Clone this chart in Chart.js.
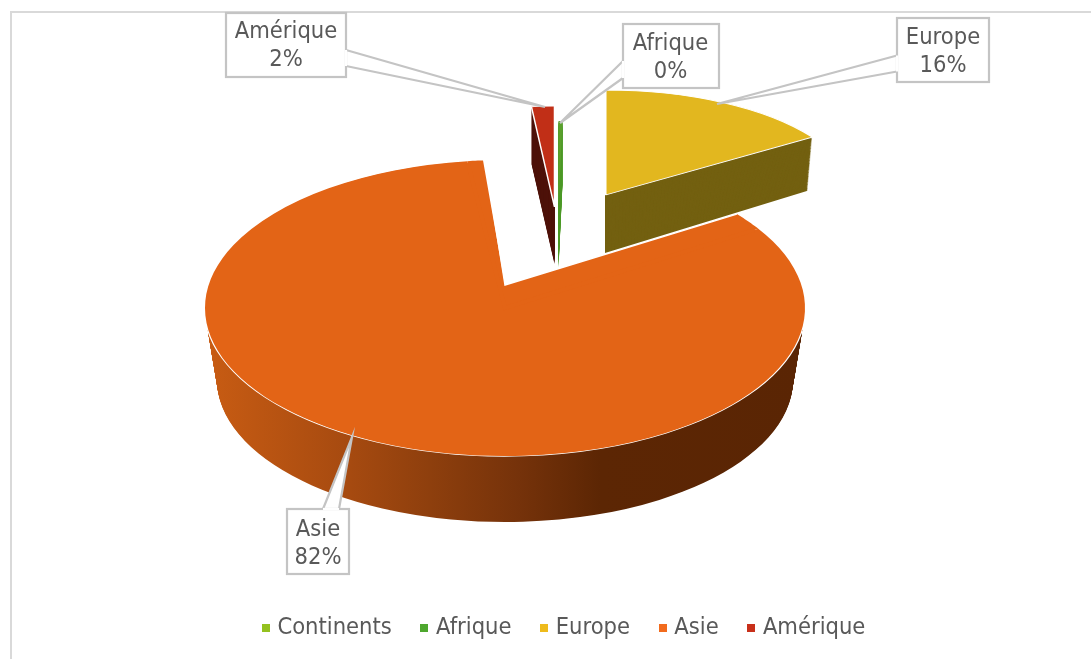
<!DOCTYPE html>
<html><head><meta charset="utf-8">
<style>html,body{margin:0;padding:0;background:#fff}canvas{display:block}</style>
<script src="https://cdn.jsdelivr.net/npm/chart.js@4"></script></head>
<body><canvas id="c" width="1091" height="659"></canvas>
<script>
const categories = ['Continents','Afrique','Europe','Asie','Amérique'];
const shares = [0, 0.3, 15.7, 82, 2];
const faceColors = ['#94c11f','#5aa02c','#e2b71f','#e36416','#c12f17'];
const legendColors = ['#94c11f','#4ea72e','#eebb1c','#f26b1d','#c8301a'];
const sideColors = ['#94c11f','#4f9a2a','#736010','#5c2604','#4e120a'];

const FONT = '"DejaVu Sans Condensed","DejaVu Sans",sans-serif';
const FONT_SIZE = 23.5;
const TEXT = '#595959', LINE = '#c4c4c4';

// how each exploded slice is seen in perspective: top ellipse and bottom ellipse
const views = [
  null,
  {x:558.5,y:205,rx:212,ry:84, bx:558.5,by:268,brx:212,bry:84, spin:0, bare:true},
  {x:605.5,y:195,rx:248,ry:105,bx:605,by:253,brx:243,bry:113, spin:-1.08},
  {x:505,y:308,rx:300,ry:148,bx:505,by:380,brx:288,bry:142, spin:0,
   apex:{x:505,y:285}, growStart:7, growEnd:3.4},
  {x:554.5,y:207,rx:184,ry:101,bx:554.5,by:264,brx:184,bry:101, spin:0}
];
const drawOrder = [1,2,4,3];
const asieSide = [[207,'#c85c13'],[350,'#a64a10'],[430,'#8e3f0d'],[520,'#75320a'],[600,'#5c2604'],[805,'#5a2504']];

// callouts: box, pointer base and tip
const callouts = [
  null,
  {box:[623,24,96,64], base:[[623,61],[623,78]], tip:[560,123], cx:670.5, ly:[44,72]},
  {box:[897,18,92,64], base:[[897,55.5],[897,71.5]], tip:[717,104], cx:943, ly:[38,66]},
  {box:[287,509,62,65], base:[[323,509],[339,509]], tip:[352,437], cx:318, ly:[530,558]},
  {box:[226,13,120,64], base:[[346,50],[346,66]], tip:[545,107], cx:286, ly:[32,60]}
];

function lerp(a,b,t){return a+(b-a)*t;}

const pie3d = {
  id:'pie3d',
  beforeDraw(chart){
    const c = chart.ctx; c.save();
    c.fillStyle='#fff'; c.fillRect(0,0,chart.width,chart.height);
    c.strokeStyle='#d9d9d9'; c.lineWidth=2;
    c.beginPath(); c.moveTo(11,659); c.lineTo(11,12); c.lineTo(1091,12); c.stroke();
    c.restore();
  },
  beforeDatasetsDraw(chart){
    const c = chart.ctx, arcs = chart.getDatasetMeta(0).data;
    const place = (arc,v,t)=>{
      const X=lerp(v.x,v.bx,t),Y=lerp(v.y,v.by,t),rx=lerp(v.rx,v.brx,t),ry=lerp(v.ry,v.bry,t);
      const R=arc.outerRadius;
      c.translate(X,Y); c.scale(rx/R,ry/R); c.rotate(v.spin*Math.PI/180); c.translate(-arc.x,-arc.y);
      return {X,Y,rx,ry,R};
    };
    const drawWith=(arc,over)=>{
      const base=arc.options, o=Object.create(base);
      Object.assign(o,over);
      arc.options=o; arc.draw(c); arc.options=base;
    };
    drawOrder.forEach(i=>{
      const arc=arcs[i], v=views[i], base=arc.options;
      const depth=Math.max(v.by-v.y,1);
      for(let s=Math.ceil(depth);s>=1;s--){
        const t=s/depth;
        c.save();
        const p=place(arc,v,t);
        let fill=sideColors[i];
        if(i===3){
          const toLocal=X=>arc.x+(X-p.X)*p.R/p.rx;
          const g=c.createLinearGradient(toLocal(asieSide[0][0]),0,toLocal(asieSide[asieSide.length-1][0]),0);
          const span=asieSide[asieSide.length-1][0]-asieSide[0][0];
          asieSide.forEach(q=>g.addColorStop((q[0]-asieSide[0][0])/span,q[1]));
          fill=g;
        }
        drawWith(arc,{backgroundColor:fill,borderWidth:0});
        c.restore();
      }
      c.save();
      place(arc,v,0);
      if(v.bare) drawWith(arc,{borderWidth:0}); else arc.draw(c);
      c.restore();
      if(v.apex){
        const pt=(a,k=1)=>[v.x+k*v.rx*Math.cos(a),v.y+k*v.ry*Math.sin(a)];
        const D=Math.PI/180, a0=arc.startAngle, a1=arc.endAngle;
        c.save();
        c.fillStyle=base.backgroundColor;
        c.beginPath();
        c.moveTo(v.apex.x,v.apex.y);
        for(let d=v.growStart;d>=-0.01;d-=0.5){const q=pt(a0-d*D);c.lineTo(q[0],q[1]);}
        c.lineTo(v.x,v.y);
        for(let d=0;d<=v.growEnd+0.01;d+=0.5){const q=pt(a1+d*D);c.lineTo(q[0],q[1]);}
        c.closePath(); c.fill();
        c.restore();
        c.save();
        place(arc,v,0);
        drawWith(arc,{borderWidth:0});
        c.restore();
        // hide the seams between the slice and its perspective correction
        c.save();
        c.strokeStyle=base.backgroundColor; c.lineWidth=4;
        c.beginPath();
        let s=pt(a0,0.985); c.moveTo(s[0],s[1]);
        c.lineTo(v.x,v.y);
        s=pt(a1,0.985); c.lineTo(s[0],s[1]);
        c.stroke();
        c.strokeStyle='#fff'; c.lineWidth=1.4;
        c.beginPath();
        let q=pt(a1+v.growEnd*D); c.moveTo(q[0],q[1]);
        c.lineTo(v.apex.x,v.apex.y);
        q=pt(a0-v.growStart*D); c.lineTo(q[0],q[1]);
        c.stroke();
        c.restore();
      }
    });
    return false;
  },
  afterDraw(chart){
    const c=chart.ctx, total=shares.reduce((a,b)=>a+b,0);
    c.save();
    callouts.forEach((k,i)=>{
      if(!k) return;
      const [x,y,w,h]=k.box;
      c.lineWidth=2.2; c.strokeStyle=LINE; c.fillStyle='#fff';
      c.fillRect(x,y,w,h);
      c.beginPath(); c.moveTo(k.base[0][0],k.base[0][1]); c.lineTo(k.tip[0],k.tip[1]); c.lineTo(k.base[1][0],k.base[1][1]); c.closePath(); c.fill();
      c.beginPath(); c.moveTo(k.base[0][0],k.base[0][1]); c.lineTo(k.tip[0],k.tip[1]); c.lineTo(k.base[1][0],k.base[1][1]); c.stroke();
      c.strokeRect(x,y,w,h);
      c.strokeStyle='#fff';
      c.beginPath(); c.moveTo(k.base[0][0],k.base[0][1]); c.lineTo(k.base[1][0],k.base[1][1]); c.stroke();
      c.fillStyle=TEXT; c.font=FONT_SIZE+'px '+FONT; c.textAlign='center'; c.textBaseline='middle';
      c.fillText(categories[i],k.cx,k.ly[0]);
      c.fillText(Math.round(shares[i]/total*100)+'%',k.cx,k.ly[1]);
    });
    c.restore();
  }
};

function marker(color){
  const m=document.createElement('canvas'); m.width=8; m.height=8;
  const g=m.getContext('2d'); g.fillStyle=color; g.fillRect(0,0,8,8);
  return m;
}

new Chart(document.getElementById('c'),{
  type:'pie',
  data:{labels:categories,datasets:[{data:shares,backgroundColor:faceColors,borderColor:'#fff',borderWidth:2.4}]},
  options:{
    responsive:false,animation:false,rotation:0,
    layout:{padding:{bottom:9,left:40}},
    plugins:{
      tooltip:{enabled:false},
      legend:{position:'bottom',labels:{
        usePointStyle:true,boxWidth:0.01,padding:32.5,color:TEXT,font:{family:FONT,size:FONT_SIZE},
        generateLabels(chart){
          const base=Chart.overrides.pie.plugins.legend.labels.generateLabels(chart);
          return base.map((it,i)=>Object.assign(it,{pointStyle:marker(legendColors[i]),hidden:false,fontColor:TEXT}));
        }
      }}
    }
  },
  plugins:[pie3d]
});
</script></body></html>
